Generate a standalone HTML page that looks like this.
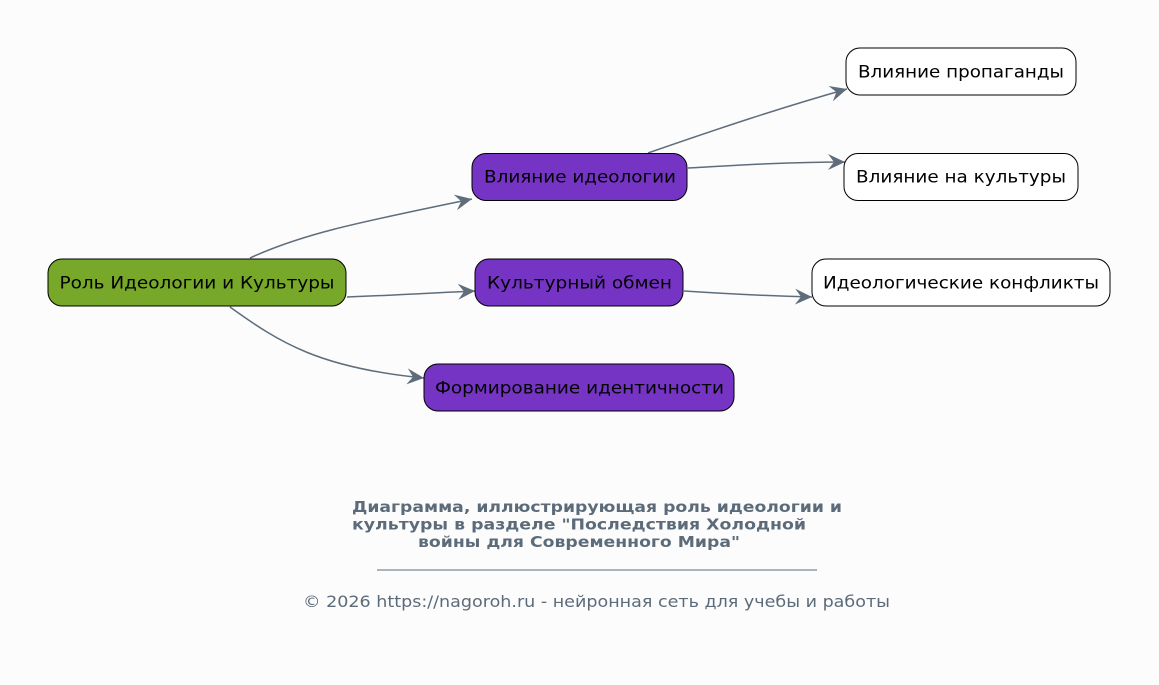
<!DOCTYPE html>
<html><head><meta charset="utf-8"><style>
html,body{margin:0;padding:0;background:#fcfcfc;}
svg{display:block;}
text{font-family:"DejaVu Sans","Liberation Sans",sans-serif;}
</style></head><body>
<svg width="1159" height="685" viewBox="0 0 1159 685" xmlns="http://www.w3.org/2000/svg">
<defs>
<marker id="ah" markerUnits="userSpaceOnUse" markerWidth="20" markerHeight="18" refX="17" refY="8" orient="auto" viewBox="0 0 20 16">
<path d="M0,0 L17,8 L0,16 L6,8 Z" fill="#5f6d7b"/>
</marker>
</defs>
<rect width="1159" height="685" fill="#fcfcfc"/>
<g fill="none" stroke="#5f6d7b" stroke-width="1.5">
<path d="M250,258 C300,235 350,224 472,199" marker-end="url(#ah)"/>
<path d="M347,297 C400,295 430,293 475,291" marker-end="url(#ah)"/>
<path d="M230,307 C280,343 320,368 424,378" marker-end="url(#ah)"/>
<path d="M648,153 C720,128 780,108 847,89" marker-end="url(#ah)"/>
<path d="M688,168 C740,165 790,162 845,162" marker-end="url(#ah)"/>
<path d="M684,291 C730,294 770,296 812,297" marker-end="url(#ah)"/>
</g>
<g stroke="#000" stroke-width="1">
<rect x="48" y="259" width="298" height="47" rx="14" fill="#77a82a"/>
<rect x="472" y="153.5" width="215" height="47" rx="14" fill="#7634c5"/>
<rect x="475" y="259" width="208" height="47" rx="14" fill="#7634c5"/>
<rect x="424" y="364" width="310" height="47" rx="14" fill="#7634c5"/>
<rect x="846" y="48" width="230" height="47" rx="14" fill="#fff"/>
<rect x="844" y="153.5" width="234" height="47" rx="14" fill="#fff"/>
<rect x="812" y="259" width="298" height="47" rx="14" fill="#fff"/>
</g>
<g font-size="17" fill="#000" text-anchor="middle">
<text x="197" y="288.5" textLength="275" lengthAdjust="spacingAndGlyphs">Роль Идеологии и Культуры</text>
<text x="580" y="182.5" textLength="192" lengthAdjust="spacingAndGlyphs">Влияние идеологии</text>
<text x="579.5" y="288.5" textLength="185" lengthAdjust="spacingAndGlyphs">Культурный обмен</text>
<text x="579.5" y="393.5" textLength="289" lengthAdjust="spacingAndGlyphs">Формирование идентичности</text>
<text x="961" y="77.5" textLength="206" lengthAdjust="spacingAndGlyphs">Влияние пропаганды</text>
<text x="961" y="182.5" textLength="210" lengthAdjust="spacingAndGlyphs">Влияние на культуры</text>
<text x="961" y="288.5" textLength="276" lengthAdjust="spacingAndGlyphs">Идеологические конфликты</text>
</g>
<g font-size="15.5" font-weight="bold" fill="#5c6b7a">
<text x="352" y="512" textLength="490" lengthAdjust="spacingAndGlyphs">Диаграмма, иллюстрирующая роль идеологии и</text>
<text x="352" y="529.5" textLength="454" lengthAdjust="spacingAndGlyphs">культуры в разделе "Последствия Холодной</text>
<text x="418" y="547" textLength="322" lengthAdjust="spacingAndGlyphs">войны для Современного Мира"</text>
</g>
<line x1="377" y1="570" x2="817" y2="570" stroke="#5c6b7a" stroke-width="1"/>
<text x="303" y="607" font-size="16" fill="#5c6b7a" textLength="587" lengthAdjust="spacingAndGlyphs">© 2026 https://nagoroh.ru - нейронная сеть для учебы и работы</text>
</svg>
</body></html>
